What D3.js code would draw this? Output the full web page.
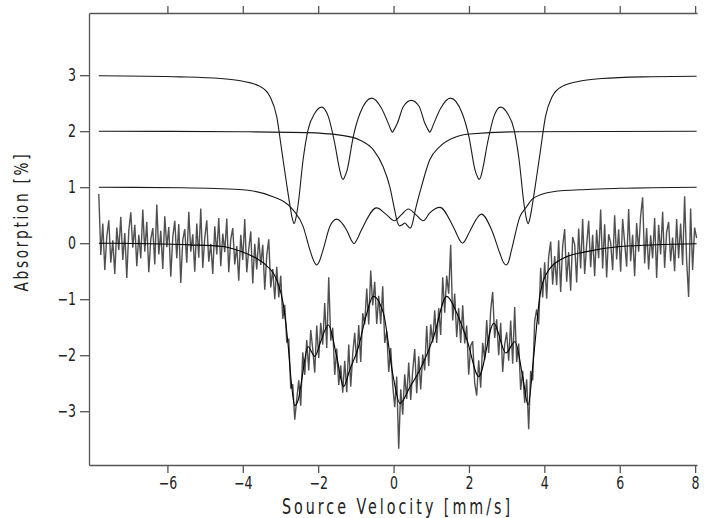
<!DOCTYPE html>
<html>
<head>
<meta charset="utf-8">
<script src="https://cdn.jsdelivr.net/npm/d3@7"></script>
<style>
  body { margin: 0; background: #fff; }
</style>
</head>
<body>
<div id="canvas"></div>
<script>
"use strict"

let svgWidth = 704
let svgHeight = 518
let plot = { left: 89, right: 697, top: 13, bottom: 465 }
let labelFont = "'DejaVu Sans', sans-serif"
let squeeze = 0.74 /*horizontal squeeze to get the narrow lettering*/

/*Tick values*/
const velocityTicks = [-6, -4, -2, 0, 2, 4, 6, 8]
const absorptionTicks = [-3, -2, -1, 0, 1, 2, 3]

/*Measured spectrum: first and last channel velocity, then one absorption value per channel*/
const channelStart = -7.82
const channelEnd = 8.04
const measured = [
  0.88, -0.21, 0.35, -0.48, 0.12, 0.41, -0.35, 0.05, -0.55, 0.28,
  -0.12, 0.47, -0.30, 0.18, -0.62, 0.22, 0.55, -0.08, 0.33, -0.41,
  0.15, -0.27, 0.60, -0.15, 0.38, -0.52, 0.07, 0.27, -0.38, 0.69,
  -0.20, 0.22, -0.46, 0.48, -0.07, 0.29, -0.60, 0.11, 0.40, -0.27,
  0.34, -0.71, 0.06, 0.25, -0.35, 0.56, -0.15, 0.16, -0.51, 0.35,
  -0.26, 0.62, -0.44, 0.10, 0.41, -0.33, -0.01, -0.55, 0.30, -0.20,
  0.45, -0.41, 0.17, -0.16, 0.44, -0.52, 0.07, 0.27, -0.38, -0.05,
  -0.67, 0.15, -0.30, 0.43, -0.52, -0.10, 0.21, -0.72, -0.01, -0.47,
  0.10, -0.39, -0.03, -0.83, -0.22, 0.07, -0.79, -0.46, -1.00, -0.42,
  -0.97, -0.58, -1.35, -1.10, -1.76, -1.72, -2.60, -2.52, -3.15, -2.79,
  -2.45, -2.90, -1.95, -2.35, -1.73, -2.27, -1.55, -1.89, -2.31, -1.47,
  -2.05, -1.42, -1.81, -1.07, -1.87, -0.61, -1.74, -1.51, -2.35, -1.88,
  -2.53, -2.18, -2.67, -2.10, -2.66, -1.81, -2.56, -1.98, -1.60, -2.14,
  -1.46, -2.12, -1.25, -1.45, -0.81, -1.45, -0.49, -1.11, -0.69, -1.44,
  -0.94, -1.44, -0.77, -1.78, -1.57, -2.30, -1.87, -2.53, -2.93, -2.38,
  -3.67, -2.61, -3.06, -2.34, -2.78, -2.13, -2.80, -2.28, -1.89, -2.68,
  -2.02, -2.61, -1.99, -2.27, -1.48, -2.19, -1.45, -1.77, -1.20, -1.78,
  -1.16, -1.64, -0.61, -1.24, -0.58, -0.90, -0.03, -1.38, -0.90, -1.68,
  -1.16, -1.78, -1.11, -1.79, -1.47, -2.35, -1.83, -1.75, -2.50, -2.72,
  -2.09, -2.58, -1.78, -2.08, -1.37, -1.96, -1.19, -0.87, -1.69, -1.36,
  -2.00, -1.42, -2.30, -1.81, -1.59, -2.10, -1.38, -2.15, -1.14, -2.12,
  -1.79, -2.62, -2.28, -2.85, -2.43, -3.32, -2.28, -2.45, -1.39, -1.18,
  -1.45, -0.44, -0.97, -0.34, -0.99, -0.24, 0.03, -0.74, -0.23, -0.75,
  0.05, -0.87, -0.05, 0.25, -0.69, -0.16, -0.85, 0.11, -0.02, -0.70,
  0.26, -0.45, 0.43, -0.55, -0.03, 0.40, -0.43, 0.15, -0.59, 0.24,
  -0.27, 0.60, -0.45, 0.34, -0.61, 0.16, 0.01, -0.48, 0.50, -0.29,
  0.25, -0.51, 0.43, 0.01, -0.42, 0.61, -0.32, 0.15, -0.59, 0.36,
  -0.15, 0.49, 0.82, -0.36, 0.27, -0.47, 0.14, -0.27, 0.45, -0.62,
  0.33, -0.20, 0.56, -0.44, 0.20, 0.38, -0.32, 0.10, -0.50, 0.43,
  -0.27, 0.35, -0.39, 0.84, -0.31, -0.96, 0.62, -0.48, 0.28, 0.09
]

/*Sextet 1, shifted up by 3 (velocity, absorption)*/
const sextetOuter = [
  [-7.82, 2.99], [-5.66, 2.97], [-4.60, 2.94], [-4.07, 2.90], [-3.54, 2.80], [-3.28, 2.62],
  [-3.10, 2.26], [-2.97, 1.67], [-2.84, 1.07], [-2.75, 0.68], [-2.69, 0.45], [-2.64, 0.35],
  [-2.59, 0.45], [-2.53, 0.70], [-2.40, 1.49], [-2.27, 2.02], [-2.09, 2.32], [-1.91, 2.43],
  [-1.73, 2.26], [-1.56, 1.78], [-1.43, 1.31], [-1.38, 1.18], [-1.34, 1.14], [-1.30, 1.18],
  [-1.23, 1.31], [-1.07, 1.90], [-0.89, 2.32], [-0.58, 2.59], [-0.32, 2.41], [-0.14, 2.14],
  [-0.06, 2.01], [-0.03, 1.98], [0.00, 2.01], [0.10, 2.14], [0.26, 2.44], [0.47, 2.55],
  [0.68, 2.44], [0.83, 2.14], [0.93, 2.01], [0.96, 1.98], [0.99, 2.01], [1.07, 2.14],
  [1.25, 2.41], [1.51, 2.59], [1.82, 2.32], [2.00, 1.90], [2.16, 1.31], [2.23, 1.18],
  [2.27, 1.14], [2.31, 1.18], [2.36, 1.31], [2.49, 1.78], [2.66, 2.26], [2.84, 2.43],
  [3.02, 2.32], [3.20, 2.02], [3.33, 1.49], [3.46, 0.70], [3.52, 0.45], [3.57, 0.35],
  [3.62, 0.45], [3.68, 0.68], [3.77, 1.07], [3.90, 1.67], [4.03, 2.26], [4.21, 2.62],
  [4.47, 2.80], [5.00, 2.90], [5.53, 2.94], [6.60, 2.97], [8.04, 2.98]
]

/*Doublet, shifted up by 2*/
const doublet = [
  [-7.82, 2.00], [-4.07, 1.99], [-2.31, 1.975], [-1.42, 1.93], [-0.89, 1.84], [-0.54, 1.67],
  [-0.28, 1.37], [-0.10, 1.01], [0.03, 0.59], [0.10, 0.38], [0.16, 0.31], [0.23, 0.33],
  [0.30, 0.36], [0.37, 0.31], [0.44, 0.27], [0.50, 0.35], [0.56, 0.54], [0.74, 1.01],
  [0.96, 1.49], [1.22, 1.72], [1.57, 1.875], [2.02, 1.95], [3.35, 1.99], [8.04, 2.00]
]

/*Sextet 2, shifted up by 1*/
const sextetInner = [
  [-7.82, 1.00], [-5.60, 0.99], [-4.08, 0.96], [-3.20, 0.83], [-2.66, 0.59], [-2.40, 0.30],
  [-2.22, -0.12], [-2.10, -0.34], [-2.04, -0.39], [-1.98, -0.34], [-1.87, -0.12], [-1.69, 0.30],
  [-1.51, 0.43], [-1.25, 0.24], [-1.10, 0.03], [-1.05, -0.01], [-1.00, 0.03], [-0.85, 0.24],
  [-0.45, 0.63], [-0.19, 0.51], [0.02, 0.40], [0.21, 0.51], [0.39, 0.61], [0.59, 0.51],
  [0.79, 0.40], [0.96, 0.54], [1.23, 0.64], [1.58, 0.30], [1.78, 0.03], [1.83, 0.00],
  [1.88, 0.03], [2.02, 0.21], [2.33, 0.52], [2.60, 0.24], [2.82, -0.18], [2.92, -0.35],
  [2.98, -0.39], [3.04, -0.35], [3.13, -0.12], [3.35, 0.47], [3.53, 0.65], [3.70, 0.80],
  [4.23, 0.92], [5.12, 0.96], [6.00, 0.98], [8.04, 1.00]
]

/*Total fit through the measured spectrum*/
const totalFit = [
  [-7.82, 0.00], [-6.47, -0.01], [-5.40, -0.03], [-4.53, -0.06], [-4.08, -0.14], [-3.64, -0.27],
  [-3.37, -0.40], [-3.10, -0.66], [-2.93, -1.07], [-2.80, -1.80], [-2.71, -2.50], [-2.62, -2.90],
  [-2.53, -2.80], [-2.45, -2.50], [-2.27, -1.85], [-2.09, -2.02], [-1.93, -1.75], [-1.73, -1.46],
  [-1.51, -2.02], [-1.33, -2.56], [-1.16, -2.26], [-0.93, -1.85], [-0.73, -1.30], [-0.54, -0.95],
  [-0.27, -1.25], [-0.01, -2.38], [0.17, -2.86], [0.44, -2.56], [0.70, -2.26], [1.05, -1.70],
  [1.41, -0.95], [1.68, -1.25], [1.95, -1.73], [2.26, -2.38], [2.66, -1.43], [2.98, -1.96],
  [3.22, -1.76], [3.43, -2.40], [3.57, -2.89], [3.72, -2.00], [3.88, -0.95], [4.06, -0.54],
  [4.50, -0.27], [5.12, -0.15], [6.01, -0.06], [8.04, -0.01]
]

/*Create drawing canvas*/
let svg = d3.select("#canvas")
    .append("svg")
    .attr("width", svgWidth)
    .attr("height", svgHeight)
    .style("background", "#fff")

/*Scales*/
let xScale = d3.scaleLinear()
    .domain([-8.08, 8.05])
    .range([plot.left, plot.right])
let yScale = d3.scaleLinear()
    .domain([-3.96, 4.11])
    .range([plot.bottom, plot.top])
/*channel index -> velocity*/
let channelScale = d3.scaleLinear()
    .domain([0, measured.length - 1])
    .range([channelStart, channelEnd])

let smoothLine = d3.line()
    .x(d => xScale(d[0]))
    .y(d => yScale(d[1]))
    .curve(d3.curveMonotoneX)

/*Component curves*/
let components = [sextetOuter, doublet, sextetInner]
svg.selectAll("path.component")
    .data(components)
    .join("path")
    .classed("component", true)
    .attr("d", smoothLine)
    .attr("fill", "none")
    .attr("stroke", "#1a1a1a")
    .attr("stroke-width", 1.1)

/*Measured points joined as a line*/
let dataLine = d3.line()
    .x((d, i) => xScale(channelScale(i)))
    .y(d => yScale(d))
svg.append("path")
    .datum(measured)
    .attr("d", dataLine)
    .attr("fill", "none")
    .attr("stroke", "#505050")
    .attr("stroke-width", 1.4)

/*Fit on top*/
svg.append("path")
    .datum(totalFit)
    .attr("d", smoothLine)
    .attr("fill", "none")
    .attr("stroke", "#000")
    .attr("stroke-width", 1.1)

/*Axes*/
function styleAxis(g) {
    g.selectAll("path, line")
        .attr("stroke", "#555")
        .attr("stroke-width", 1.3)
    g.selectAll("text")
        .attr("fill", "#222")
    g.attr("font-family", labelFont)
        .attr("font-size", 17)
}

svg.append("g")
    .attr("transform", `translate(0,${plot.bottom})`)
    .call(d3.axisBottom(xScale).tickValues(velocityTicks).tickSize(8).tickSizeOuter(0).tickPadding(4))
    .call(styleAxis)
    .selectAll("text")
    .attr("transform", `scale(${squeeze},1)`)

svg.append("g")
    .attr("transform", `translate(0,${plot.top})`)
    .call(d3.axisTop(xScale).tickValues(velocityTicks).tickFormat("").tickSize(7).tickSizeOuter(0))
    .call(styleAxis)

svg.append("g")
    .attr("transform", `translate(${plot.left},0)`)
    .call(d3.axisLeft(yScale).tickValues(absorptionTicks).tickSize(9).tickSizeOuter(0).tickPadding(4))
    .call(styleAxis)
    .selectAll("text")
    .attr("x", -13 / squeeze)
    .attr("transform", `scale(${squeeze},1)`)

/*Axis titles*/
svg.append("text")
    .attr("transform", `translate(396,514) scale(${squeeze * 0.92},1)`)
    .attr("text-anchor", "middle")
    .attr("textLength", 228 / (squeeze * 0.92))
    .attr("lengthAdjust", "spacing")
    .style("font-family", labelFont)
    .style("font-size", "21px")
    .style("fill", "#222")
    .text("Source Velocity [mm/s]")

svg.append("text")
    .attr("transform", `translate(28,223) rotate(-90) scale(${squeeze * 0.92},1)`)
    .attr("text-anchor", "middle")
    .attr("textLength", 137 / (squeeze * 0.92))
    .attr("lengthAdjust", "spacing")
    .style("font-family", labelFont)
    .style("font-size", "20px")
    .style("fill", "#222")
    .text("Absorption [%]")
</script>
</body>
</html>
